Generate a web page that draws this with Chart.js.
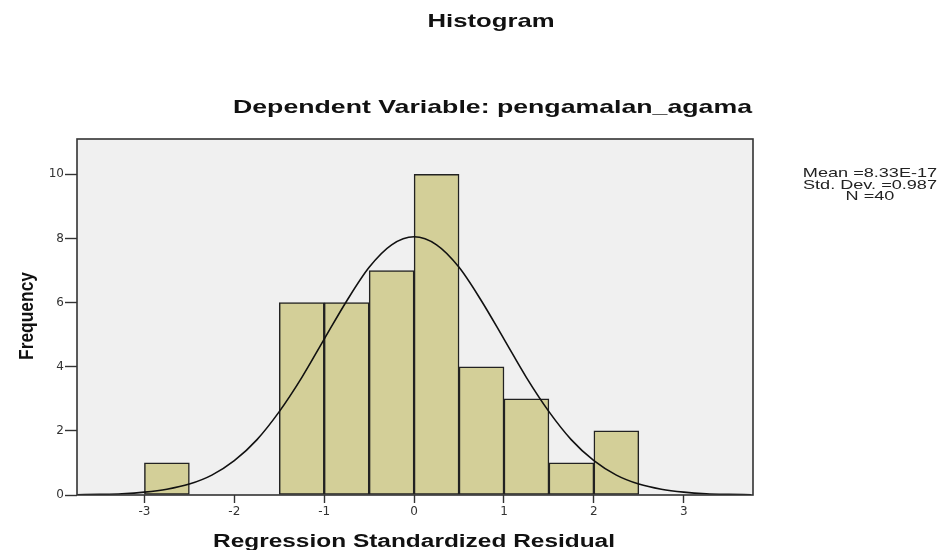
<!DOCTYPE html>
<html>
<head>
<meta charset="utf-8">
<script src="https://cdn.jsdelivr.net/npm/chart.js@4.4.1/dist/chart.umd.min.js"></script>
<style>
  html, body { margin: 0; padding: 0; background: #ffffff; }
  canvas { display: block; }
</style>
</head>
<body>
<canvas id="c" width="940" height="550"></canvas>
<script>
// ---- Data ----
const binCenters = [-2.75, -2.25, -1.75, -1.25, -0.75, -0.25, 0.25, 0.75, 1.25, 1.75, 2.25];
const frequencies = [1, 0, 0, 6, 6, 7, 10, 4, 3, 1, 2];
const curveX = [-3.75, -3.5, -3.25, -3, -2.75, -2.5, -2.25, -2, -1.75, -1.5, -1.25, -1, -0.75, -0.5, -0.25, 0,
                0.25, 0.5, 0.75, 1, 1.25, 1.5, 1.75, 2, 2.25, 2.5, 2.75, 3, 3.25, 3.5, 3.75];
const curveY = [0.01, 0.02, 0.04, 0.09, 0.18, 0.34, 0.62, 1.07, 1.72, 2.6, 3.66, 4.86, 6.05, 7.1, 7.8, 8.05,
                7.8, 7.1, 6.05, 4.86, 3.66, 2.6, 1.72, 1.07, 0.62, 0.34, 0.18, 0.09, 0.04, 0.02, 0.01];
const xTicks = [-3, -2, -1, 0, 1, 2, 3];
const yTicks = [0, 2, 4, 6, 8, 10];
const titleText = 'Histogram';
const subtitleText = 'Dependent Variable: pengamalan_agama';
const xTitle = 'Regression Standardized Residual';
const yTitle = 'Frequency';
const statsLines = ['Mean =8.33E-17', 'Std. Dev. =0.987', 'N =40'];

function fitText(ctx, text, cx, baseline, font, width) {
  ctx.save();
  ctx.font = font;
  const w = ctx.measureText(text).width;
  ctx.translate(cx, baseline);
  ctx.scale(width / w, 1);
  ctx.textAlign = 'center';
  ctx.textBaseline = 'alphabetic';
  ctx.fillText(text, 0, 0);
  ctx.restore();
}

const decor = {
  id: 'decor',
  beforeDraw(chart) {
    const { ctx, chartArea: a } = chart;
    ctx.save();
    ctx.fillStyle = '#ffffff';
    ctx.fillRect(0, 0, chart.width, chart.height);
    ctx.fillStyle = '#f0f0f0';
    ctx.fillRect(a.left, a.top, a.right - a.left, a.bottom - a.top);
    ctx.restore();
  },
  afterDraw(chart) {
    const { ctx, chartArea: a } = chart;
    ctx.save();
    ctx.strokeStyle = '#333333';
    ctx.lineWidth = 1.6;
    ctx.strokeRect(a.left, a.top, a.right - a.left, a.bottom - a.top);
    ctx.fillStyle = '#111111';
    fitText(ctx, titleText, 491, 27, 'bold 19px "Liberation Sans", Arial, sans-serif', 127);
    fitText(ctx, subtitleText, 492.5, 113, 'bold 19px "Liberation Sans", Arial, sans-serif', 519);
    fitText(ctx, xTitle, 414, 547, 'bold 18px "Liberation Sans", Arial, sans-serif', 402);
    // rotated y title
    ctx.save();
    ctx.font = 'bold 16px "Liberation Sans", Arial, sans-serif';
    const w = ctx.measureText(yTitle).width;
    ctx.translate(33, 316);
    ctx.rotate(-Math.PI / 2);
    ctx.scale(88 / w, 1.3);
    ctx.textAlign = 'center';
    ctx.textBaseline = 'alphabetic';
    ctx.fillText(yTitle, 0, 0);
    ctx.restore();
    // stats box
    ctx.fillStyle = '#222222';
    const sf = '13px "Liberation Sans", Arial, sans-serif';
    ctx.font = sf;
    const s = 134 / ctx.measureText(statsLines[1]).width;
    const bases = [177, 188.5, 200];
    statsLines.forEach((t, i) => {
      ctx.font = sf;
      const tw = ctx.measureText(t).width;
      fitText(ctx, t, 870, bases[i], sf, tw * s);
    });
    ctx.restore();
  }
};

new Chart(document.getElementById('c'), {
  type: 'bar',
  data: {
    datasets: [
      {
        type: 'line',
        data: curveX.map((x, i) => ({ x: x, y: curveY[i] })),
        borderColor: '#111111',
        borderWidth: 1.6,
        pointRadius: 0,
        fill: false,
        cubicInterpolationMode: 'monotone',
        order: 0
      },
      {
        type: 'bar',
        data: binCenters.map((x, i) => ({ x: x, y: frequencies[i] })),
        backgroundColor: '#d3cf98',
        borderColor: '#222222',
        borderWidth: 1.5,
        borderSkipped: false,
        barPercentage: 1,
        categoryPercentage: 1,
        order: 1
      }
    ]
  },
  options: {
    responsive: false,
    animation: false,
    layout: { padding: { top: 139, right: 187, left: 0, bottom: 0 } },
    plugins: { legend: { display: false }, tooltip: { enabled: false }, title: { display: false } },
    scales: {
      x: {
        type: 'linear',
        offset: false,
        min: -3.75,
        max: 3.77,
        afterBuildTicks(scale) { scale.ticks = xTicks.map(v => ({ value: v })); },
        afterFit(scale) { scale.height = 55; },
        border: { display: false },
        grid: { display: true, offset: false, drawOnChartArea: false, drawTicks: true, tickLength: 8, tickColor: '#333333', tickWidth: 1.4 },
        ticks: { color: '#333333', padding: 2, font: { family: '"DejaVu Sans", "Liberation Sans", sans-serif', size: 12 }, maxRotation: 0 }
      },
      y: {
        type: 'linear',
        min: 0,
        max: 11.1,
        afterBuildTicks(scale) { scale.ticks = yTicks.map(v => ({ value: v })); },
        afterFit(scale) { scale.width = 77; },
        border: { display: false },
        grid: { display: true, drawOnChartArea: false, drawTicks: true, tickLength: 12, tickColor: '#333333', tickWidth: 1.4 },
        ticks: { color: '#333333', padding: 1, font: { family: '"DejaVu Sans", "Liberation Sans", sans-serif', size: 12 } }
      }
    }
  },
  plugins: [decor]
});
</script>
</body>
</html>
